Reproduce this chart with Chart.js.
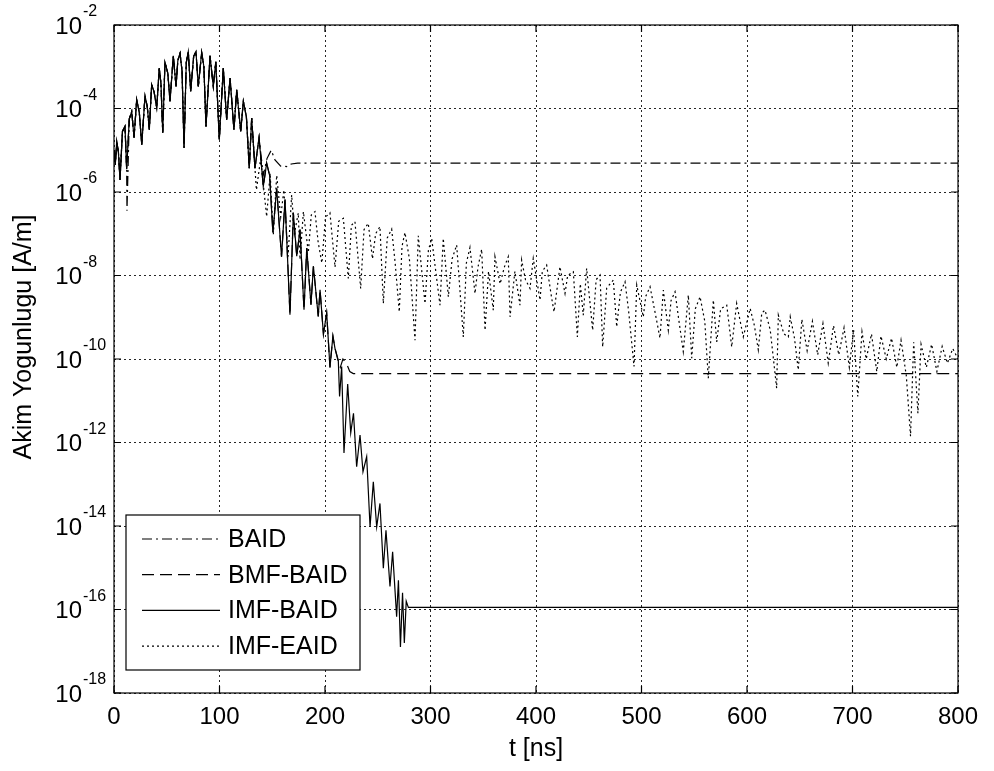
<!DOCTYPE html>
<html>
<head>
<meta charset="utf-8">
<title>Akim Yogunlugu</title>
<script src="https://cdn.jsdelivr.net/npm/chart.js@4.4.1/dist/chart.umd.min.js"></script>
<style>
  html, body { margin: 0; padding: 0; background: #fff; }
  canvas { display: block; }
</style>
</head>
<body>
<canvas id="chart" width="994" height="771"></canvas>
<script>
// axis ticks
const xTicks = [0, 100, 200, 300, 400, 500, 600, 700, 800];
const yTickExps = [-2, -4, -6, -8, -10, -12, -14, -16, -18];

// shared early part of all curves: t [ns] and log10 of the current density
const headT = [0, 1.2, 2.6, 4.2, 5.7, 8.0, 10.4, 12.0, 14.5, 16.8, 19.0, 21.5, 24.0, 26.3, 29.4, 31.5,
  33.5, 35.7, 38.0, 40.5, 42.9, 44.5, 46.2, 48.3, 51.0, 53.1, 56.2, 58.8, 60.5, 62.6, 64.5, 66.4,
  68.5, 70.4, 72.7, 75.5, 77.7, 79.9, 83.1, 85.2, 87.2, 91.0, 94.1, 96.5, 99.8, 103.6, 106.8, 110.0,
  113.7, 116.3, 120.1, 122.6, 125.5, 128.2, 130.5, 133.6, 137.5, 141.5, 144.7, 147.5, 150.6, 154.2,
  158.8, 162.1, 166.8, 170.0, 173.2, 176.3, 180.1, 182.7, 186.7, 189.0, 193.6, 195.3, 198.5, 201.6,
  204.7, 207.5, 209.5, 212.6, 213.8, 215.8, 218.0, 221.5, 224.4, 227.0, 230.0, 233.2, 236.0, 239.5,
  242.7, 245.8, 249.0, 252.1, 255.3, 257.8, 261.6, 264.1, 267.9];
const headLog = [-5.0, -5.35, -4.79, -5.05, -5.71, -4.55, -4.43, -5.45, -4.25, -4.07, -4.70, -3.79, -4.10, -4.87, -3.70, -3.95,
  -4.51, -3.43, -3.60, -3.98, -3.03, -3.40, -4.58, -2.90, -3.15, -3.83, -2.74, -3.47, -2.85, -2.68, -3.10, -4.94,
  -2.90, -2.64, -3.59, -2.75, -2.64, -3.47, -2.66, -3.00, -4.43, -2.74, -3.47, -2.88, -4.75, -3.03, -4.27, -3.27,
  -4.51, -3.55, -4.55, -3.83, -4.20, -5.43, -4.23, -5.43, -4.70, -5.87, -5.31, -5.60, -6.97, -5.92,
  -7.55, -6.18, -8.94, -6.50, -7.54, -6.90, -8.82, -7.34, -8.70, -7.78, -8.98, -8.34, -9.40, -8.90,
  -10.20, -9.45, -9.75, -10.03, -10.90, -10.18, -12.25, -10.60, -11.77, -11.30, -12.58, -11.82, -12.70, -12.34,
  -14.02, -12.94, -14.02, -13.46, -15.01, -14.10, -15.45, -14.62, -16.17];

// BAID: own dip near the start, then levels off
const baidDipT = [12.3];
const baidDipLog = [-6.45];
const baidTailT = [141.5, 145.0, 149.0, 152.6, 158.0, 163.7, 168.0, 174.0, 800];
const baidTailLog = [-5.60, -5.20, -5.00, -5.23, -5.38, -5.39, -5.33, -5.31, -5.31];

// BMF-BAID tail
const bmfTailT = [212.0, 214.5, 217.0, 220.6, 223.5, 226.8, 800];
const bmfTailLog = [-10.00, -10.20, -10.00, -10.12, -10.30, -10.35, -10.35];

// IMF-BAID tail
const imfTailT = [269.6, 271.5, 273.5, 275.2, 277.0, 279.0, 800];
const imfTailLog = [-15.30, -16.90, -15.60, -16.80, -15.80, -15.95, -15.95];

// IMF-EAID tail (slow oscillating decay)
const eaidTailT = [135, 139, 144.7, 148, 151, 154.2, 158, 161, 165, 168.4, 171, 174.7, 176.3, 179.5, 184.2, 187,
  190.5, 193.5, 197, 200.5, 204.7, 209.5, 213, 217.4, 222.1, 225, 228.4, 233.8, 237, 241, 245, 248,
  252.1, 255.3, 259, 263.2, 266.5, 270.4, 273, 275.8, 280, 285.3, 288.4, 294.8, 298, 301.1, 305, 309,
  312.1, 316.9, 320.5, 324.8, 331.1, 334, 337.4, 342.2, 345, 348.5, 351.7, 355, 359.5, 361.1, 366, 370,
  373.7, 375.4, 380, 384.8, 386.4, 390, 394.3, 397.4, 403.8, 406, 410.1, 414.9, 417.1, 422.7, 427.5, 430,
  435.4, 439.2, 442, 444.8, 448, 453.7, 457, 460.7, 463.2, 467, 473.3, 476.5, 480, 484.4, 488, 492.9,
  495.5, 501.7, 504, 508.1, 513, 517.5, 520.7, 525.4, 528, 531.8, 535, 539.6, 544.4, 547.6, 551, 555.5,
  560, 563.3, 568.1, 571.3, 575, 580.8, 585.5, 590.2, 596.5, 603, 607, 610.7, 614, 617.1, 622, 628.1,
  629.7, 635, 639.2, 641, 645, 648.6, 652, 657, 662, 667, 672, 677, 682, 687, 692, 697,
  701, 705, 709, 713, 718, 723, 727, 732, 737, 742, 746, 751, 755, 758, 762, 765,
  770, 775, 780, 785, 790, 795, 800];
const eaidTailLog = [-5.95, -5.20, -6.59, -5.55, -7.03, -5.60, -6.60, -5.95, -7.55, -6.07, -7.00, -6.50, -7.62, -6.47, -7.45, -6.55,
  -6.47, -7.20, -7.70, -6.60, -6.50, -7.80, -6.70, -6.63, -8.07, -6.80, -6.71, -8.31, -6.90, -6.75, -7.60, -7.00,
  -6.83, -8.67, -7.10, -6.89, -7.70, -8.87, -7.30, -6.97, -7.60, -9.55, -7.05, -8.67, -7.40, -7.11, -7.90, -8.71,
  -7.11, -8.51, -7.60, -7.27, -9.47, -7.70, -7.33, -8.43, -7.80, -7.37, -9.31, -7.90, -8.83, -7.55, -8.20, -7.80,
  -7.55, -8.99, -7.90, -8.71, -7.63, -8.10, -8.31, -7.59, -8.59, -7.90, -7.75, -8.55, -8.87, -7.79, -8.43, -8.00,
  -7.91, -9.47, -8.20, -8.95, -7.83, -9.31, -8.10, -7.99, -9.71, -8.30, -8.11, -9.23, -8.40, -8.15, -8.90, -10.18,
  -8.23, -8.99, -8.50, -8.27, -8.90, -9.50, -8.35, -9.31, -8.60, -8.39, -9.00, -9.82, -8.47, -9.98, -8.80, -8.51,
  -9.10, -10.46, -8.59, -9.59, -8.80, -8.71, -9.71, -8.67, -9.47, -8.79, -9.20, -9.78, -8.90, -8.83, -9.30, -10.70,
  -8.95, -9.40, -9.47, -8.99, -9.50, -10.26, -9.05, -9.80, -9.10, -9.90, -9.15, -10.10, -9.20, -9.90, -9.25, -10.20,
  -9.30, -10.90, -9.35, -10.00, -9.40, -10.30, -9.45, -10.00, -9.50, -10.20, -9.55, -10.40, -11.85, -9.60, -11.30, -9.65,
  -10.20, -9.65, -10.30, -9.70, -10.10, -9.75, -10.00];

const FONT = '"Liberation Sans", Arial, Helvetica, sans-serif';

function toPoints(tArr, logArr) {
  return tArr.map((t, i) => ({ x: t, y: Math.pow(10, logArr[i]) }));
}
function headUntil(tMax) {
  return toPoints(headT, headLog).filter(p => p.x <= tMax);
}

const baidData = headUntil(137.5).concat(toPoints(baidDipT, baidDipLog), toPoints(baidTailT, baidTailLog))
  .sort((a, b) => a.x - b.x);
const bmfData = headUntil(209.5).concat(toPoints(bmfTailT, bmfTailLog));
const imfData = headUntil(267.9).concat(toPoints(imfTailT, imfTailLog));
const eaidData = headUntil(133.6).concat(toPoints(eaidTailT, eaidTailLog));

// frame, ticks, labels and legend in MATLAB style
const matlabFrame = {
  id: 'matlabFrame',
  afterDraw(chart) {
    const ctx = chart.ctx;
    const a = chart.chartArea;
    const xs = chart.scales.x, ys = chart.scales.y;
    ctx.save();

    // box and inward ticks
    ctx.strokeStyle = '#000';
    ctx.lineWidth = 1.2;
    ctx.setLineDash([]);
    ctx.strokeRect(a.left, a.top, a.right - a.left, a.bottom - a.top);
    ctx.beginPath();
    xTicks.forEach(v => {
      const px = xs.getPixelForValue(v);
      ctx.moveTo(px, a.bottom); ctx.lineTo(px, a.bottom - 7);
      ctx.moveTo(px, a.top); ctx.lineTo(px, a.top + 7);
    });
    yTickExps.forEach(e => {
      const py = ys.getPixelForValue(Math.pow(10, e));
      ctx.moveTo(a.left, py); ctx.lineTo(a.left + 7, py);
      ctx.moveTo(a.right, py); ctx.lineTo(a.right - 7, py);
    });
    ctx.stroke();

    // tick labels
    ctx.fillStyle = '#000';
    ctx.textBaseline = 'alphabetic';
    ctx.font = '24px ' + FONT;
    ctx.textAlign = 'center';
    xTicks.forEach(v => {
      ctx.fillText(String(v), xs.getPixelForValue(v), a.bottom + 31);
    });
    yTickExps.forEach(e => {
      const py = ys.getPixelForValue(Math.pow(10, e));
      ctx.font = '24px ' + FONT;
      ctx.textAlign = 'right';
      ctx.fillText('10', a.left - 32, py + 8.5);
      ctx.font = '16px ' + FONT;
      ctx.textAlign = 'left';
      ctx.fillText(String(e), a.left - 31, py - 9);
    });

    // axis titles
    ctx.font = '25px ' + FONT;
    ctx.textAlign = 'center';
    ctx.fillText('t [ns]', (a.left + a.right) / 2, a.bottom + 63);
    ctx.save();
    ctx.translate(31, (a.top + a.bottom) / 2 - 22);
    ctx.rotate(-Math.PI / 2);
    ctx.fillText('Akim Yogunlugu [A/m]', 0, 0);
    ctx.restore();

    // legend box
    const lx = a.left + 12, ly = a.bottom - 178, lw = 234, lh = 155;
    ctx.fillStyle = '#fff';
    ctx.fillRect(lx, ly, lw, lh);
    ctx.strokeStyle = '#000';
    ctx.lineWidth = 1.2;
    ctx.strokeRect(lx, ly, lw, lh);
    chart.data.datasets.forEach((ds, i) => {
      const ry = ly + 24 + i * 35.7;
      ctx.beginPath();
      ctx.setLineDash(ds.borderDash || []);
      ctx.lineWidth = ds.borderWidth;
      ctx.moveTo(lx + 16, ry);
      ctx.lineTo(lx + 94, ry);
      ctx.stroke();
      ctx.setLineDash([]);
      ctx.fillStyle = '#000';
      ctx.textAlign = 'left';
      ctx.textBaseline = 'middle';
      ctx.font = '25px ' + FONT;
      ctx.fillText(ds.label, lx + 102, ry + 1);
    });
    ctx.restore();
  }
};

const ctx = document.getElementById('chart').getContext('2d');
const chart = new Chart(ctx, {
  type: 'line',
  data: {
    datasets: [
      { label: 'BAID', data: baidData, borderDash: [10, 4, 2, 4] },
      { label: 'BMF-BAID', data: bmfData, borderDash: [12, 6] },
      { label: 'IMF-BAID', data: imfData, borderDash: [] },
      { label: 'IMF-EAID', data: eaidData, borderDash: [2, 3] }
    ].map(ds => Object.assign(ds, {
      borderColor: '#000',
      borderWidth: 1.2,
      pointRadius: 0,
      fill: false,
      tension: 0
    }))
  },
  options: {
    responsive: false,
    animation: false,
    devicePixelRatio: 1,
    layout: { padding: { left: 114, right: 36, top: 25, bottom: 78 } },
    plugins: { legend: { display: false }, tooltip: { enabled: false } },
    scales: {
      x: {
        type: 'linear', min: 0, max: 800,
        ticks: { display: false },
        grid: { color: 'rgba(0,0,0,0.85)', lineWidth: 1, drawTicks: false },
        border: { display: false, dash: [2, 3] },
        afterBuildTicks: s => { s.ticks = xTicks.map(v => ({ value: v })); }
      },
      y: {
        type: 'logarithmic', min: 1e-18, max: 1e-2,
        ticks: { display: false },
        grid: { color: 'rgba(0,0,0,0.85)', lineWidth: 1, drawTicks: false },
        border: { display: false, dash: [2, 3] },
        afterBuildTicks: s => { s.ticks = yTickExps.map(e => ({ value: Math.pow(10, e) })); }
      }
    }
  },
  plugins: [matlabFrame]
});
</script>
</body>
</html>
